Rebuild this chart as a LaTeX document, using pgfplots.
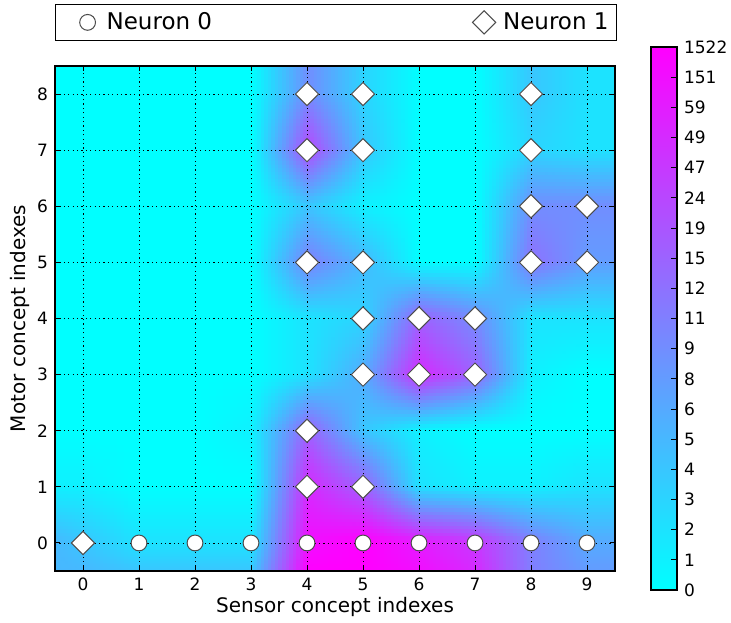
\documentclass[border=0pt]{standalone}
\usepackage{pgfplots}
\pgfplotsset{compat=1.18}
\usepackage{pgfplotstable}
\usepgfplotslibrary{patchplots}
\usepackage{fontspec}
\setmainfont{DejaVu Sans}

\pgfplotstableread{
x y c
-0.5 -0.5 5
0 -0.5 5
1 -0.5 4
2 -0.5 4
3 -0.5 4
4 -0.5 18
5 -0.5 18
6 -0.5 17
7 -0.5 15
8 -0.5 9
9 -0.5 7
9.5 -0.5 7
-0.5 0 5
0 0 4
1 0 2
2 0 2
3 0 2
4 0 17
5 0 18
6 0 16
7 0 14
8 0 9
9 0 6
9.5 0 6
-0.5 1 1
0 1 1
1 1 0
2 1 0
3 1 0
4 1 15
5 1 11
6 1 2
7 1 1
8 1 1
9 1 2
9.5 1 2
-0.5 2 0
0 2 0
1 2 0
2 2 0
3 2 1
4 2 11
5 2 4
6 2 1
7 2 0
8 2 0
9 2 0
9.5 2 0
-0.5 3 0
0 3 0
1 3 0
2 3 0
3 3 0
4 3 2
5 3 6
6 3 15
7 3 11
8 3 1
9 3 0
9.5 3 0
-0.5 4 0
0 4 0
1 4 0
2 4 0
3 4 0
4 4 2
5 4 3
6 4 11
7 4 8
8 4 2
9 4 2
9.5 4 2
-0.5 5 0
0 5 0
1 5 0
2 5 0
3 5 0
4 5 9
5 5 5
6 5 0
7 5 0
8 5 10
9 5 7
9.5 5 7
-0.5 6 0
0 6 0
1 6 0
2 6 0
3 6 0
4 6 4
5 6 1
6 6 0
7 6 0
8 6 8
9 6 8
9.5 6 8
-0.5 7 0
0 7 0
1 7 0
2 7 0
3 7 0
4 7 13
5 7 4
6 7 0
7 7 0
8 7 3
9 7 2
9.5 7 2
-0.5 8 0
0 8 0
1 8 0
2 8 0
3 8 0
4 8 8
5 8 3
6 8 0
7 8 0
8 8 4
9 8 2
9.5 8 2
-0.5 8.5 0
0 8.5 0
1 8.5 0
2 8.5 0
3 8.5 0
4 8.5 8
5 8.5 3
6 8.5 0
7 8.5 0
8 8.5 4
9 8.5 2
9.5 8.5 2
}\heat

\pgfplotstableread{
x y c
0 0 0
1 0 0
0 18 18
1 18 18
}\cbar

\begin{document}
\begin{tikzpicture}
\path[use as bounding box] (-27.5pt,-25.5pt) rectangle (338pt,285.5pt);
\pgfplotsset{
  colormap={cool}{rgb255=(0,255,255) rgb255=(255,0,255)},
}
\begin{axis}[
  at={(0pt,0pt)}, anchor=south west,
  scale only axis, width=280pt, height=252.5pt,
  xmin=-0.5, xmax=9.5, ymin=-0.5, ymax=8.5,
  xtick={0,...,9}, ytick={0,...,8},
  /pgf/number format/assume math mode=true,
  tick label style={font=\fontsize{8.5}{10}\selectfont},
  label style={font=\fontsize{9.5}{11}\selectfont},
  xlabel={Sensor concept indexes},
  ylabel={Motor concept indexes},
  every axis x label/.style={at={(axis description cs:0.5,0)}, anchor=center, yshift=-18pt},
  every axis y label/.style={at={(axis description cs:0,0.5)}, rotate=90, anchor=center, yshift=17.5pt},
  grid=major,
  grid style={black, line width=0.4pt, dash pattern=on 0.6pt off 1.6pt},
  axis line style={black, line width=0.6pt},
  tick style={black, line width=0.5pt},
  major tick length=2.5pt,
  tick align=inside,
  axis on top,
  point meta min=0, point meta max=18,
  legend style={at={(0,1)}, anchor=south west, yshift=12.5pt,
    draw=black, line width=0.6pt, inner xsep=2pt, inner ysep=2pt,
    font=\fontsize{11.5}{13}\selectfont,
    /tikz/column 2/.style={column sep=120pt}},
  legend columns=2,
  legend image code/.code={\path[draw=none, fill=none] (-14pt,-5pt) rectangle (7.5pt,5pt); \draw[#1] plot coordinates {(0pt,0pt)};},
]
\addplot[surf, shader=interp, patch type=bilinear, mesh/cols=12, point meta=\thisrow{c}, forget plot] table[x=x, y=y] {\heat};
\addplot[only marks, mark=*, mark size=3.95pt, mark options={fill=white, draw=black!70, line width=0.5pt}] coordinates {
(1,0) (2,0) (3,0) (4,0) (5,0) (6,0) (7,0) (8,0) (9,0)};
\addlegendentry{Neuron 0}
\addplot[only marks, mark=square*, mark size=4.1pt, mark options={rotate=45, fill=white, draw=black!70, line width=0.5pt}] coordinates {
(0,0) (4,1) (5,1) (4,2) (5,3) (6,3) (7,3) (5,4) (6,4) (7,4) (4,5) (5,5) (8,5) (9,5)
(8,6) (9,6) (4,7) (5,7) (8,7) (4,8) (5,8) (8,8)};
\addlegendentry{Neuron 1}
\end{axis}

\begin{axis}[
  at={(298pt,-9.5pt)}, anchor=south west,
  scale only axis, width=13pt, height=271.5pt,
  xmin=0, xmax=1, ymin=0, ymax=18,
  xtick=\empty,
  ytick={0,...,18},
  yticklabels={0,1,2,3,4,5,6,8,9,11,12,15,19,24,47,49,59,151,1522},
  yticklabel pos=right, ytick pos=right,
  tick align=inside,
  major tick length=3pt,
  tick style={black, line width=0.5pt},
  tick label style={font=\fontsize{8.5}{10}\selectfont},
  axis line style={black, line width=0.8pt},
  axis on top,
  point meta min=0, point meta max=18,
]
\addplot[surf, shader=interp, mesh/cols=2, point meta=\thisrow{c}] table[x=x, y=y] {\cbar};
\end{axis}
\end{tikzpicture}
\end{document}
